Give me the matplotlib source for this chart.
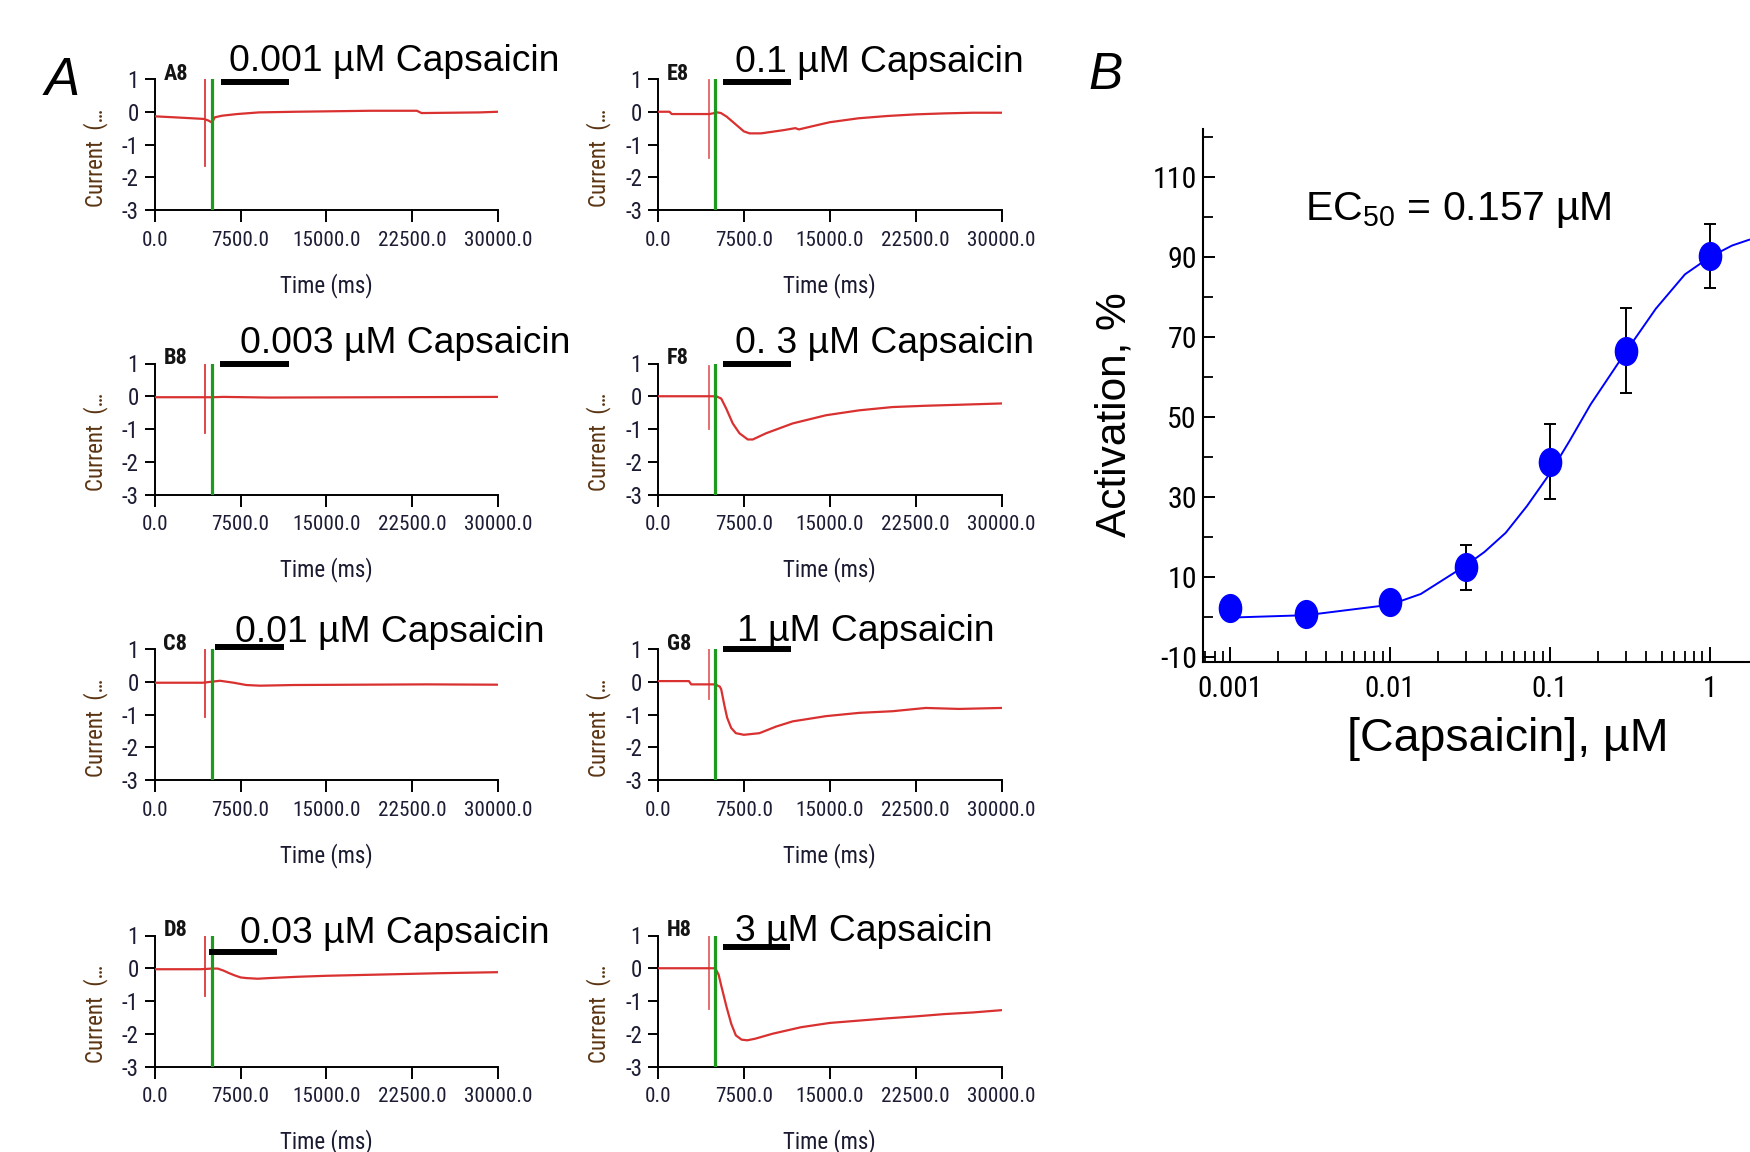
import os
import matplotlib
matplotlib.use('Agg')
import matplotlib.pyplot as plt
from matplotlib import font_manager
from matplotlib.font_manager import FontProperties
from matplotlib.path import Path
from matplotlib.transforms import Affine2D
import matplotlib.ticker as mticker

# ---------------- data: panel A traces (time ms, current) ----------------
panel_ids = ['A8', 'B8', 'C8', 'D8', 'E8', 'F8', 'G8', 'H8']
titles = ['0.001 µM Capsaicin', '0.003 µM Capsaicin', '0.01 µM Capsaicin',
          '0.03 µM Capsaicin', '0.1 µM Capsaicin', '0. 3 µM Capsaicin',
          '1 µM Capsaicin', '3 µM Capsaicin']

t_A8 = [0, 1700, 3300, 4300, 4700, 5000, 5250, 5900, 7200, 9100, 12300, 18800, 22900, 23300, 28400, 30000]
i_A8 = [-0.14, -0.17, -0.20, -0.22, -0.27, -0.33, -0.17, -0.12, -0.07, -0.02, 0.0, 0.03, 0.03, -0.04, -0.02, 0.0]

t_B8 = [0, 5000, 6000, 10000, 20000, 30000]
i_B8 = [-0.03, -0.03, -0.02, -0.04, -0.03, -0.02]

t_C8 = [0, 4200, 5700, 6900, 8000, 9200, 12100, 17900, 23700, 30000]
i_C8 = [-0.03, -0.03, 0.03, -0.03, -0.10, -0.12, -0.10, -0.09, -0.08, -0.09]

t_D8 = [0, 4000, 5000, 5500, 6000, 6500, 7000, 7500, 8000, 9000, 10000, 12500, 15000, 17500, 20000, 25000, 30000]
i_D8 = [-0.03, -0.03, -0.01, -0.01, -0.07, -0.15, -0.22, -0.28, -0.30, -0.32, -0.30, -0.26, -0.23, -0.21, -0.19, -0.15, -0.12]

t_E8 = [0, 1000, 1200, 4500, 5200, 5500, 6000, 6500, 7000, 7500, 8000, 9000, 10000, 11000, 12000, 12300,
        14000, 15000, 17500, 20000, 22500, 25000, 27500, 30000]
i_E8 = [0.0, 0.0, -0.07, -0.07, -0.02, -0.04, -0.15, -0.30, -0.45, -0.60, -0.66, -0.66, -0.61, -0.56, -0.50, -0.54,
        -0.40, -0.32, -0.20, -0.13, -0.08, -0.05, -0.03, -0.03]

t_F8 = [0, 5080, 5520, 5950, 6530, 7115, 7840, 8280, 9440, 11760, 14670, 17570, 20470, 23370, 26280, 30000]
i_F8 = [0.0, 0.0, -0.07, -0.37, -0.83, -1.13, -1.32, -1.32, -1.13, -0.83, -0.58, -0.43, -0.33, -0.29, -0.26, -0.22]

t_G8 = [0, 2700, 2900, 5000, 5400, 5520, 5810, 6040, 6390, 6800, 7500, 8860, 10300, 11760, 14670, 17570,
        20480, 23380, 26290, 30000]
i_G8 = [0.02, 0.02, -0.08, -0.08, -0.15, -0.23, -0.74, -1.10, -1.41, -1.57, -1.62, -1.57, -1.37, -1.21, -1.05, -0.95,
        -0.90, -0.80, -0.83, -0.80]

t_H8 = [0, 5000, 5300, 5500, 6000, 6400, 6800, 7300, 7800, 8500, 10000, 12500, 15000, 17500, 20000, 22500,
        25000, 27500, 30000]
i_H8 = [0.0, 0.0, -0.2, -0.5, -1.2, -1.7, -2.05, -2.18, -2.2, -2.15, -2.0, -1.8, -1.67, -1.6, -1.53, -1.47,
        -1.4, -1.35, -1.28]

traces_t = [t_A8, t_B8, t_C8, t_D8, t_E8, t_F8, t_G8, t_H8]
traces_i = [i_A8, i_B8, i_C8, i_D8, i_E8, i_F8, i_G8, i_H8]

# application bar (start ms, end ms, level)
bar_start = [5800, 5700, 5270, 4720, 5660, 5660, 5660, 5660]
bar_end = [11740, 11735, 11300, 10710, 11620, 11620, 11620, 11560]
bar_level = [0.92, 1.0, 1.05, 0.51, 0.9, 1.0, 0.99, 0.64]

# event markers
red_t = [4370, 4370, 4370, 4390, 4440, 4440, 4440, 4440]
red_top = [1.0, 0.97, 1.0, 1.05, 0.98, 0.93, 1.0, 1.0]
red_bottom = [-1.67, -1.13, -1.07, -0.86, -1.42, -1.0, -0.52, -1.25]
green_t = [4970, 4970, 4970, 4970, 4940, 4940, 4940, 4940]

time_ticks = [0, 7500, 15000, 22500, 30000]
time_tick_labels = ['0.0', '7500.0', '15000.0', '22500.0', '30000.0']
current_ticks = [-3, -2, -1, 0, 1]

# ---------------- data: panel B ----------------
conc = [0.001, 0.003, 0.01, 0.03, 0.1, 0.3, 1]
activation = [2.3, 0.7, 3.8, 12.4, 38.8, 66.5, 90.2]
act_err = [2.3, 1.0, 1.5, 5.6, 9.4, 10.6, 7.9]

fit_x = [0.001, 0.003, 0.01, 0.0156, 0.03, 0.039, 0.053, 0.072, 0.1, 0.133, 0.18, 0.296, 0.46, 0.7, 1.0, 1.38, 1.75, 2.2]
fit_y = [-0.2, 0.4, 3.0, 5.7, 12.9, 16.2, 21.0, 27.7, 35.8, 44.0, 53.1, 66.0, 77.0, 85.6, 89.9, 92.8, 94.2, 95.2]

conc_ticks = [0.001, 0.01, 0.1, 1]
conc_tick_labels = ['0.001', '0.01', '0.1', '1']
act_major = [-10, 10, 30, 50, 70, 90, 110]
act_minor = [0, 20, 40, 60, 80, 100, 120]

# ---------------- fonts ----------------
names = {f.name for f in font_manager.fontManager.ttflist}
REG = 'Liberation Sans' if 'Liberation Sans' in names else 'DejaVu Sans'

narrow_file = None
narrow_bold_file = None
prefs = ['LiberationSansNarrow-Regular', 'ArialNarrow', 'RobotoCondensed-Regular',
         'Roboto_Condensed-Regular', 'DejaVuSansCondensed.', 'OpenSans_Condensed-Regular',
         'OpenSansCondensed-Regular']
prefs_b = ['LiberationSansNarrow-Bold.', 'RobotoCondensed-Bold', 'Roboto_Condensed-Bold',
           'DejaVuSansCondensed-Bold.', 'OpenSans_Condensed-Bold', 'OpenSansCondensed-Bold']
files = [f.fname for f in font_manager.fontManager.ttflist]
for p in prefs:
    hit = [f for f in files if p in os.path.basename(f)]
    if hit:
        narrow_file = hit[0]
        break
for p in prefs_b:
    hit = [f for f in files if p in os.path.basename(f)]
    if hit:
        narrow_bold_file = hit[0]
        break
NSC = 1.0 if narrow_file else 0.84
if narrow_file and 'DejaVu' in narrow_file:
    NSC = 0.92


def nfp(size, bold=False):
    f = narrow_bold_file if bold else narrow_file
    if f:
        return FontProperties(fname=f, size=size * NSC)
    if narrow_file:
        return FontProperties(fname=narrow_file, size=size * NSC, weight='bold')
    return FontProperties(family=REG, size=size * NSC, weight='bold' if bold else 'normal')


plt.rcParams['font.family'] = [REG, 'DejaVu Sans']
plt.rcParams['mathtext.default'] = 'regular'
plt.rcParams['axes.unicode_minus'] = False

W, H = 1750, 1152
fig = plt.figure(figsize=(W / 100, H / 100), dpi=100)


def fx(px):
    return px / W


def fy(py):
    return 1 - py / H


RED = '#d93030'
GREEN = '#1e9a1e'
TICKC = '#1c1c34'

col_left = [154.7, 658.0]
row_top = [79.0, 363.5, 649.0, 935.5]
ax_w, ax_h = 343.5, 131.0
title_pos = [(229, 71), (240, 353), (235, 642), (240, 943),
             (735, 72), (735, 353), (737, 641), (735, 941)]

for k in range(8):
    c, r = divmod(k, 4)
    left, top = col_left[c], row_top[r]
    ax = fig.add_axes([fx(left), fy(top + ax_h), ax_w / W, ax_h / H])
    ax.set_xlim(0, 30000)
    ax.set_ylim(-3, 1)
    for s in ('top', 'right'):
        ax.spines[s].set_visible(False)
    for s in ('left', 'bottom'):
        ax.spines[s].set_linewidth(1.4)
    ax.set_xticks(time_ticks)
    ax.set_xticklabels(time_tick_labels)
    ax.set_yticks(current_ticks)
    ax.tick_params(axis='x', direction='out', length=8.5, width=1.4, pad=6.5, labelcolor=TICKC)
    ax.tick_params(axis='y', direction='out', length=7.5, width=1.4, pad=4, labelcolor=TICKC)
    for lab in ax.get_xticklabels():
        lab.set_fontproperties(nfp(15.2))
    for lab in ax.get_yticklabels():
        lab.set_fontproperties(nfp(16.5))

    ax.plot(traces_t[k], traces_i[k], color=RED, lw=1.6, zorder=3)
    ax.plot([red_t[k], red_t[k]], [red_bottom[k], red_top[k]], color=RED,
            lw=1.3, alpha=0.75 if c == 1 else 0.95, zorder=2)
    ax.plot([green_t[k], green_t[k]], [-3, 1], color=GREEN, lw=2.3, zorder=4)
    ax.plot([bar_start[k], bar_end[k]], [bar_level[k], bar_level[k]], color='black',
            lw=4.3, solid_capstyle='butt', clip_on=False, zorder=5)

    ax.text(0.025, 1.04, panel_ids[k], transform=ax.transAxes, fontproperties=nfp(16, bold=True),
            color='#141414', va='center', ha='left')

    ax.set_xlabel('Time (ms)', fontproperties=nfp(16.5), color='#1a1a30')
    ax.xaxis.set_label_coords(0.5, -0.48)
    ax.xaxis.label.set_va('top')
    ax.set_ylabel('Current  (…', fontproperties=nfp(16.5), color='#5a3412')
    ax.yaxis.set_label_coords(-0.137, 0.40)

    tx, ty = title_pos[k]
    fig.text(fx(tx), fy(ty), titles[k], fontsize=26.8, va='baseline', ha='left', color='black')

fig.text(fx(45), fy(95), 'A', fontsize=38, style='italic', va='baseline', ha='left')
fig.text(fx(1088), fy(89), 'B', fontsize=37, style='italic', va='baseline', ha='left')

# ---------------- panel B ----------------
bl, bb, bt = 1203.3, 662.0, 129.3
br = 1837.5
axB = fig.add_axes([fx(bl), fy(bb), (br - bl) / W, (bb - bt) / H])
axB.set_xscale('log')
axB.set_xlim(10 ** -3.167, 10 ** 0.799)
axB.set_ylim(-11.3, 121.85)
for s in ('top', 'right'):
    axB.spines[s].set_visible(False)
for s in ('left', 'bottom'):
    axB.spines[s].set_linewidth(1.5)
axB.set_xticks(conc_ticks)
axB.set_xticklabels(conc_tick_labels)
axB.xaxis.set_minor_locator(mticker.LogLocator(base=10, subs=[2, 3, 4, 5, 6, 7, 8, 9], numticks=20))
axB.xaxis.set_minor_formatter(mticker.NullFormatter())
axB.set_yticks(act_major)
axB.set_yticks(act_minor, minor=True)
axB.tick_params(axis='x', which='major', direction='in', length=10.8, width=1.4, pad=9.5)
axB.tick_params(axis='x', which='minor', direction='in', length=7.9, width=1.3)
axB.tick_params(axis='y', which='major', direction='in', length=8.6, width=1.4, pad=4.5)
axB.tick_params(axis='y', which='minor', direction='in', length=7.2, width=1.3)
for lab in axB.get_xticklabels():
    lab.set_fontproperties(nfp(21))
for lab in axB.get_yticklabels():
    lab.set_fontproperties(nfp(21.5))

axB.plot(fit_x, fit_y, color='#0000ff', lw=1.4, zorder=2)
axB.errorbar(conc, activation, yerr=act_err, fmt='none', ecolor='black', elinewidth=1.4,
             capsize=4, capthick=1.4, zorder=3)
ell = Path.unit_circle().transformed(Affine2D().scale(0.8, 1.0))
axB.plot(conc, activation, linestyle='none', marker=ell, markersize=20,
         markerfacecolor='#0000ff', markeredgecolor='#0000ff', zorder=4, clip_on=False)

axB.set_ylabel('Activation, %', fontsize=30.5)
axB.yaxis.set_label_coords(-0.108, 0.4637)
axB.set_xlabel('[Capsaicin], µM', fontsize=33.5)
axB.xaxis.set_label_coords(0.4805, -0.1445)
axB.xaxis.label.set_va('center')

fig.text(fx(1305), fy(220), 'EC$_{50}$ = 0.157 µM', fontsize=29.5, va='baseline', ha='left')

fig.savefig('out.png', dpi=100)
